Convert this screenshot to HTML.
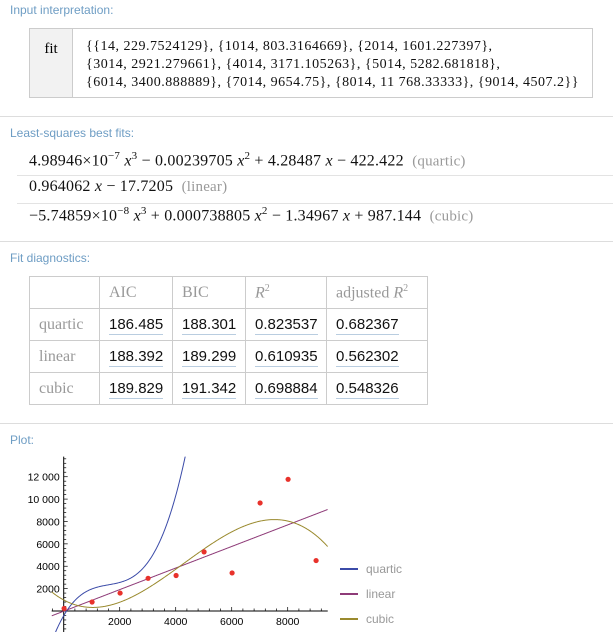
<!DOCTYPE html>
<html><head><meta charset="utf-8"><style>
body{margin:0;width:613px;height:632px;overflow:hidden;background:#fff;font-family:"Liberation Sans",sans-serif;position:relative}
.h{position:absolute;left:10px;font-size:12px;color:#6e9dc4}
.sep{position:absolute;left:0;width:613px;height:1px;background:#ddd}
.ser{font-family:"Liberation Serif",serif}
.box{position:absolute;left:29px;top:28px;width:562px;height:68px;border:1px solid #ccc}
.box .lc{position:absolute;left:0;top:0;width:42px;height:68px;background:#f2f2f2;border-right:1px solid #ccc;font-size:15px;text-align:center;line-height:40px}
.box .rc{position:absolute;left:56px;top:9px;font-size:14px;letter-spacing:0.5px;line-height:18px;color:#111;white-space:nowrap}
.f{position:absolute;left:29px;font-size:16px;letter-spacing:0.2px;color:#111;white-space:nowrap}
.f .g{color:#999;font-size:15px}
.f sup{font-size:11px}
.fl{position:absolute;left:17px;width:596px;height:1px;background:#e3e3e3}
table{position:absolute;left:29px;top:276px;border-collapse:collapse;font-size:15px}
td{border:1px solid #ccc;height:32px;padding:0 0 0 9px;box-sizing:border-box}
td.hd{color:#999;font-family:"Liberation Serif",serif;font-size:16px}
td span{border-bottom:1px solid #b9cde0;padding-bottom:1px;color:#111}
</style></head><body>
<div class="h" style="top:3px">Input interpretation:</div>
<div class="box">
<div class="lc ser">fit</div>
<div class="rc ser">{{14, 229.7524129}, {1014, 803.3164669}, {2014, 1601.227397},<br>{3014, 2921.279661}, {4014, 3171.105263}, {5014, 5282.681818},<br>{6014, 3400.888889}, {7014, 9654.75}, {8014, 11 768.33333}, {9014, 4507.2}}</div>
</div>
<div class="sep" style="top:116px"></div>
<div class="h" style="top:126px">Least-squares best fits:</div>
<div class="f ser" style="top:150px">4.98946×10<sup>−7</sup> <i>x</i><sup>3</sup> − 0.00239705 <i>x</i><sup>2</sup> + 4.28487 <i>x</i> − 422.422 &nbsp;<span class="g">(quartic)</span></div>
<div class="fl" style="top:175px"></div>
<div class="f ser" style="top:178px">0.964062 <i>x</i> − 17.7205 &nbsp;<span class="g">(linear)</span></div>
<div class="fl" style="top:203px"></div>
<div class="f ser" style="top:205px">−5.74859×10<sup>−8</sup> <i>x</i><sup>3</sup> + 0.000738805 <i>x</i><sup>2</sup> − 1.34967 <i>x</i> + 987.144 &nbsp;<span class="g">(cubic)</span></div>
<div class="sep" style="top:241px"></div>
<div class="h" style="top:251px">Fit diagnostics:</div>
<table>
<tr><td class="hd" style="width:70px"></td><td class="hd" style="width:73px">AIC</td><td class="hd" style="width:73px">BIC</td><td class="hd" style="width:81px"><i>R</i><sup style="font-size:10px">2</sup></td><td class="hd" style="width:101px">adjusted <i>R</i><sup style="font-size:10px">2</sup></td></tr>
<tr><td class="hd">quartic</td><td><span>186.485</span></td><td><span>188.301</span></td><td><span>0.823537</span></td><td><span>0.682367</span></td></tr>
<tr><td class="hd">linear</td><td><span>188.392</span></td><td><span>189.299</span></td><td><span>0.610935</span></td><td><span>0.562302</span></td></tr>
<tr><td class="hd">cubic</td><td><span>189.829</span></td><td><span>191.342</span></td><td><span>0.698884</span></td><td><span>0.548326</span></td></tr>
</table>
<div class="sep" style="top:423px"></div>
<div class="h" style="top:433px">Plot:</div>
<svg id="plot" width="613" height="632" style="position:absolute;left:0;top:0"></svg>
<script>
const xs=[14,1014,2014,3014,4014,5014,6014,7014,8014,9014];
const ys=[229.75,803.32,1601.23,2921.28,3171.11,5282.68,3400.89,9654.75,11768.33,4507.2];
const quarticCoef=[-422.422,4.28487,-0.00239705,4.98946e-7];
const linearCoef=[-17.7205,0.964062];
const cubicCoef=[987.144,-1.34967,0.000738805,-5.74859e-8];
const xTicks=[2000,4000,6000,8000];
const yTicks=[2000,4000,6000,8000,10000,12000];
const yTickLabels=["2000","4000","6000","8000","10 000","12 000"];
const seriesNames=["quartic","linear","cubic"];
const seriesColors=["#3b4ba8","#8e3b78","#9a8a2e"];
const NS="http://www.w3.org/2000/svg";
const svg=document.getElementById('plot');
const X=v=>63.7+v*0.028, Y=v=>611-v*0.01119;
const xmin=-430,xmax=9430,ymin=-1900,ymax=13800;
function mk(t,a){const e=document.createElementNS(NS,t);for(const k in a)e.setAttribute(k,a[k]);svg.appendChild(e);return e;}
const clip=mk('clipPath',{id:'cp'});
const cr=document.createElementNS(NS,'rect');cr.setAttribute('x',X(xmin));cr.setAttribute('y',Y(ymax));cr.setAttribute('width',X(xmax)-X(xmin));cr.setAttribute('height',Y(ymin)-Y(ymax));clip.appendChild(cr);
const xa=mk('line',{x1:X(xmin),x2:X(xmax),y1:Y(0),y2:Y(0),stroke:'#000','stroke-width':1});

const ya=mk('line',{x1:X(0),x2:X(0),y1:Y(ymax),y2:632,stroke:'#000','stroke-width':1});

for(let v=-400;v<=9200;v+=400){const big=v%2000===0;mk('line',{x1:X(v),x2:X(v),y1:Y(0),y2:Y(0)-(big?4:2.5),stroke:'#000','stroke-width':0.7});}
for(let v=-1600;v<=13600;v+=400){const big=v%2000===0;mk('line',{x1:X(0),x2:X(0)+(big?4:2.5),y1:Y(v),y2:Y(v),stroke:'#000','stroke-width':0.7});}
xTicks.forEach(v=>{const t=mk('text',{x:X(v),y:Y(0)+14,'text-anchor':'middle','font-size':'10.5','font-family':'Liberation Sans, sans-serif'});t.textContent=v;
});
yTicks.forEach((v,i)=>{const t=mk('text',{x:X(0)-4,y:Y(v)+4,'text-anchor':'end','font-size':'10.5','font-family':'Liberation Sans, sans-serif'});t.textContent=yTickLabels[i];
});
const poly=(c,x)=>c.reduce((s,a,i)=>s+a*Math.pow(x,i),0);
[quarticCoef,linearCoef,cubicCoef].forEach((c,i)=>{let d='';for(let x=xmin;x<=xmax;x+=20){const y=Math.max(-4000,Math.min(20000,poly(c,x)));d+=(d?'L':'M')+X(x).toFixed(2)+','+Y(y).toFixed(2);}
const p=mk('path',{d:d,fill:'none',stroke:seriesColors[i],'stroke-width':1,'clip-path':'url(#cp)'});
});
xs.forEach((x,i)=>{const c=mk('circle',{cx:X(x),cy:Y(ys[i]),r:2.6,fill:'#e8322b'});
});
seriesNames.forEach((n,i)=>{const y=569+i*25;
const l=mk('line',{x1:340,x2:358,y1:y,y2:y,stroke:seriesColors[i],'stroke-width':2});

const t=mk('text',{x:366,y:y+4,'font-size':'12',fill:'#999','font-family':'Liberation Sans, sans-serif'});t.textContent=n;
});
</script>
</body></html>
